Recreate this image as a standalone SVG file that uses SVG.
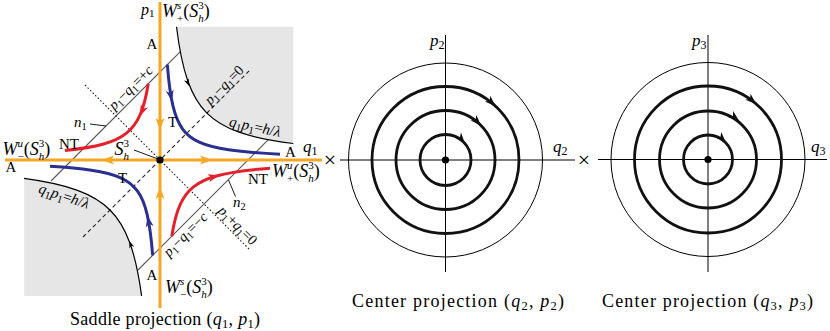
<svg xmlns="http://www.w3.org/2000/svg" xmlns:xlink="http://www.w3.org/1999/xlink" width="830" height="331" viewBox="0 0 830 331">
<defs>
<style>
text { font-family: "Liberation Serif", "Times New Roman", serif; fill: #000; }
.i { font-style: italic; }
.L { font-size: 17px; }
.W { font-size: 18px; }
.M { font-size: 15px; }
.S { font-size: 14.5px; }
.T { font-size: 18px; }
.sc { font-size: 12px; }
.sw { font-size: 11px; }
.st { font-size: 12.5px; }
.ss { font-size: 10.5px; }
.orange { stroke: #f6a623; stroke-width: 3; fill: none; }
.red { stroke: #e5202a; stroke-width: 3; fill: none; }
.blue { stroke: #2b3090; stroke-width: 3; fill: none; }
.hyp { stroke: #000; stroke-width: 1.2; fill: none; }
.gray { fill: #e6e6e6; stroke: none; }
.solid { stroke: #555; stroke-width: 1.1; }
.dash { stroke: #222; stroke-width: 1.1; stroke-dasharray: 4 3; }
.dot { stroke: #222; stroke-width: 1.1; stroke-dasharray: 1.6 2; }
.lead { stroke: #000; stroke-width: 0.9; }
.axis { stroke: #000; stroke-width: 1; }
.thin { stroke: #000; stroke-width: 1; fill: none; }
.thick { stroke: #111; stroke-width: 2.8; fill: none; }
</style>
<path id="ar" d="M0,0 L-11,-4 L-8,0 L-11,4 Z"/>
<path id="ars" d="M0,0 L-7,-2.6 L-5,0 L-7,2.6 Z"/>
<path id="aro" d="M0,0 L-12,-4.5 L-9,0 L-12,4.5 Z"/>
</defs>

<g id="saddle">
  <g id="gray-regions">
    <path class="gray" d="M176.5,26.7 C179.37,49.9 182.98,67.18 187.82,80.94 C192.66,94.7 198.73,104.93 206.9,113.1 C215.07,121.27 225.3,127.34 239.06,132.18 C252.82,137.02 270.1,140.63 293.3,143.5 L293.3,26.7 Z"/>
    <path class="gray" d="M24.1,178.4 C46.74,181.46 63.82,185.27 77.56,190.33 C91.3,195.39 101.67,201.67 110,210 C118.33,218.33 124.61,228.7 129.67,242.44 C134.73,256.18 138.54,273.26 141.6,295.9 L24.1,295.9 Z"/>
  </g>
  <g id="guide-lines">
    <line class="solid" x1="51" y1="181" x2="180.3" y2="51.7"/>
    <line class="solid" x1="138" y1="270" x2="268.3" y2="139.7"/>
    <line class="dash" x1="83" y1="237" x2="250" y2="70"/>
    <line class="dot" x1="85" y1="85" x2="250" y2="250"/>
  </g>
  <g id="energy-curves">
    <path class="hyp" d="M176.5,26.7 C179.37,49.9 182.98,67.18 187.82,80.94 C192.66,94.7 198.73,104.93 206.9,113.1 C215.07,121.27 225.3,127.34 239.06,132.18 C252.82,137.02 270.1,140.63 293.3,143.5"/>
    <path class="hyp" d="M24.1,178.4 C46.74,181.46 63.82,185.27 77.56,190.33 C91.3,195.39 101.67,201.67 110,210 C118.33,218.33 124.61,228.7 129.67,242.44 C134.73,256.18 138.54,273.26 141.6,295.9"/>
    <use xlink:href="#ars" href="#ars" fill="#000" transform="translate(189,86) rotate(68.7)"/>
    <use xlink:href="#ars" href="#ars" fill="#000" transform="translate(129.4,241) rotate(-110.4)"/>
  </g>
  <g id="axes">
    <line class="orange" x1="160" y1="2" x2="160" y2="308"/>
    <line class="orange" x1="5" y1="160" x2="322" y2="160"/>
    <use xlink:href="#aro" href="#aro" fill="#f6a623" transform="translate(160,130) rotate(90)"/>
    <use xlink:href="#aro" href="#aro" fill="#f6a623" transform="translate(160,187) rotate(-90)"/>
    <use xlink:href="#aro" href="#aro" fill="#f6a623" transform="translate(102,160) rotate(180)"/>
    <use xlink:href="#aro" href="#aro" fill="#f6a623" transform="translate(212,160)"/>
    <circle cx="160" cy="160" r="3.6" fill="#000"/>
  </g>
  <g id="orbits">
    <path class="red" d="M148.2,83.73 C146.15,96.99 143.58,106.86 140.12,114.73 C136.66,122.6 132.33,128.46 126.51,133.13 C120.69,137.8 113.39,141.28 103.59,144.05 C93.79,146.82 81.49,148.88 64.97,150.53"/>
    <path class="red" d="M171.8,236.27 C173.85,223.01 176.42,213.14 179.88,205.27 C183.34,197.4 187.67,191.54 193.49,186.87 C199.31,182.2 206.61,178.72 216.41,175.95 C228.96,172.4 245.52,170 270,168.18"/>
    <path class="blue" d="M167.34,64.62 C168.71,82.39 170.45,95.29 172.84,105.45 C175.23,115.61 178.27,123 182.45,128.81 C186.63,134.62 191.94,138.84 199.25,142.16 C206.56,145.48 215.86,147.9 228.65,149.8 C241.44,151.7 257.65,153.08 280,154.17"/>
    <path class="blue" d="M152.66,255.38 C151.29,237.61 149.55,224.71 147.16,214.55 C144.77,204.39 141.73,197 137.55,191.19 C133.37,185.38 128.06,181.16 120.75,177.84 C113.44,174.52 104.14,172.1 91.35,170.2 C80.56,168.6 67.29,167.36 50,166.36"/>
    <use xlink:href="#ar" href="#ar" fill="#e5202a" transform="translate(140,116) rotate(113.7)"/>
    <use xlink:href="#ar" href="#ar" fill="#e5202a" transform="translate(219,175.3) rotate(-15)"/>
    <use xlink:href="#ar" href="#ar" fill="#2b3090" transform="translate(171.8,101) rotate(79)"/>
    <use xlink:href="#ar" href="#ar" fill="#2b3090" transform="translate(147.6,216) rotate(259)"/>
  </g>
  <g id="leaders">
    <line class="lead" x1="90" y1="124" x2="106" y2="126"/>
    <line class="lead" x1="134" y1="150" x2="158" y2="159"/>
    <line class="lead" x1="228.5" y1="180" x2="235.5" y2="196.5"/>
  </g>
  <g id="saddle-labels">
    <text style="font-size:16px" x="141" y="14.5"><tspan class="i">p</tspan><tspan class="sw" dy="2">1</tspan></text>
    <text class="W" x="162" y="17"><tspan class="i">W</tspan><tspan class="sw i" dy="-8">s</tspan><tspan class="sw" dx="-4.3" dy="13">+</tspan><tspan dy="-5">(</tspan><tspan class="i">S</tspan><tspan class="sw" dy="-8">3</tspan><tspan class="sw i" dx="-5.5" dy="13">h</tspan><tspan dy="-5">)</tspan></text>
    <text class="M" x="146.5" y="48.5">A</text>
    <text class="S" text-anchor="middle" transform="translate(134,91) rotate(-45)"><tspan class="i">p</tspan><tspan class="ss" dy="3">1</tspan><tspan dy="-3">−</tspan><tspan class="i">q</tspan><tspan class="ss" dy="3">1</tspan><tspan dy="-3">=+</tspan><tspan class="i">c</tspan></text>
    <text class="M" x="74" y="127"><tspan class="i">n</tspan><tspan class="ss" dy="3">1</tspan></text>
    <text class="M" x="59" y="148.5">NT</text>
    <text class="W" x="2.5" y="155"><tspan class="i">W</tspan><tspan class="sw i" dy="-8">u</tspan><tspan class="sw" dx="-5.5" dy="13">−</tspan><tspan dy="-5">(</tspan><tspan class="i">S</tspan><tspan class="sw" dy="-8">3</tspan><tspan class="sw i" dx="-5.5" dy="13">h</tspan><tspan dy="-5">)</tspan></text>
    <text style="font-size:18px" x="114.5" y="155"><tspan class="i">S</tspan><tspan class="sw" dy="-8.5">3</tspan><tspan class="sw i" dx="-5.5" dy="13.5">h</tspan></text>
    <text class="M" x="5.5" y="172">A</text>
    <text class="M" x="168" y="126.5">T</text>
    <text class="M" x="118" y="183">T</text>
    <text class="S" text-anchor="middle" transform="translate(227.4,88.4) rotate(-45)"><tspan class="i">p</tspan><tspan class="ss" dy="3">1</tspan><tspan dy="-3">−</tspan><tspan class="i">q</tspan><tspan class="ss" dy="3">1</tspan><tspan dy="-3">=0</tspan></text>
    <text class="M" text-anchor="middle" transform="translate(254,131.5) rotate(12)"><tspan class="i">q</tspan><tspan class="ss" dy="3">1</tspan><tspan class="i" dy="-3">p</tspan><tspan class="ss" dy="3">1</tspan><tspan dy="-3">=</tspan><tspan class="i">h</tspan><tspan>/</tspan><tspan class="i">λ</tspan></text>
    <text class="M" x="285" y="156.5">A</text>
    <text class="L" x="303" y="151.5"><tspan class="i">q</tspan><tspan class="sc" dy="3">1</tspan></text>
    <text class="W" x="272" y="177"><tspan class="i">W</tspan><tspan class="sw i" dy="-8">u</tspan><tspan class="sw" dx="-5.5" dy="13">+</tspan><tspan dy="-5">(</tspan><tspan class="i">S</tspan><tspan class="sw" dy="-8">3</tspan><tspan class="sw i" dx="-5.5" dy="13">h</tspan><tspan dy="-5">)</tspan></text>
    <text class="M" x="248" y="184">NT</text>
    <text class="M" x="233" y="207"><tspan class="i">n</tspan><tspan class="ss" dy="3">2</tspan></text>
    <text class="S" text-anchor="middle" transform="translate(234.5,228.8) rotate(45)"><tspan class="i">p</tspan><tspan class="ss" dy="3">1</tspan><tspan dy="-3">+</tspan><tspan class="i">q</tspan><tspan class="ss" dy="3">1</tspan><tspan dy="-3">=0</tspan></text>
    <text class="S" text-anchor="middle" transform="translate(188.7,237.7) rotate(-45)"><tspan class="i">p</tspan><tspan class="ss" dy="3">1</tspan><tspan dy="-3">−</tspan><tspan class="i">q</tspan><tspan class="ss" dy="3">1</tspan><tspan dy="-3">=−</tspan><tspan class="i">c</tspan></text>
    <text class="M" x="146.5" y="279.5">A</text>
    <text class="W" x="165" y="293"><tspan class="i">W</tspan><tspan class="sw i" dy="-8">s</tspan><tspan class="sw" dx="-4.3" dy="13">−</tspan><tspan dy="-5">(</tspan><tspan class="i">S</tspan><tspan class="sw" dy="-8">3</tspan><tspan class="sw i" dx="-5.5" dy="13">h</tspan><tspan dy="-5">)</tspan></text>
    <text class="M" text-anchor="middle" transform="translate(62.6,200.6) rotate(18)"><tspan class="i">q</tspan><tspan class="ss" dy="3">1</tspan><tspan class="i" dy="-3">p</tspan><tspan class="ss" dy="3">1</tspan><tspan dy="-3">=</tspan><tspan class="i">h</tspan><tspan>/</tspan><tspan class="i">λ</tspan></text>
    <text class="T" x="70" y="325" textLength="190" lengthAdjust="spacing">Saddle projection (<tspan class="i">q</tspan><tspan class="st" dy="3">1</tspan><tspan dy="-3">, </tspan><tspan class="i">p</tspan><tspan class="st" dy="3">1</tspan><tspan dy="-3">)</tspan></text>
  </g>
</g>

<text id="times1" x="330" y="166.5" text-anchor="middle" style="font-size:22px">×</text>
<text id="times2" x="584" y="166.5" text-anchor="middle" style="font-size:22px">×</text>

<g id="center2">
  <line class="axis" x1="340" y1="160" x2="575" y2="160"/>
  <line class="axis" x1="445.5" y1="35" x2="445.5" y2="272"/>
  <circle class="thin" cx="445.5" cy="160" r="97"/>
  <circle class="thick" cx="445.5" cy="160" r="73.5"/>
  <circle class="thick" cx="445.5" cy="160" r="49.5"/>
  <circle class="thick" cx="445.5" cy="160" r="25.5"/>
  <use xlink:href="#ar" href="#ar" fill="#111" transform="translate(495.6,106.2) rotate(43)"/>
  <use xlink:href="#ar" href="#ar" fill="#111" transform="translate(481.1,125.6) rotate(46)"/>
  <use xlink:href="#ar" href="#ar" fill="#111" transform="translate(465,143.6) rotate(50)"/>
  <circle cx="445.5" cy="160" r="3.6" fill="#000"/>
  <text class="L" x="430" y="46"><tspan class="i">p</tspan><tspan class="sc" dy="3">2</tspan></text>
  <text class="L" x="553" y="152"><tspan class="i">q</tspan><tspan class="sc" dy="3">2</tspan></text>
  <text class="T" x="352" y="307" textLength="212" lengthAdjust="spacing">Center projection (<tspan class="i">q</tspan><tspan class="st" dy="3">2</tspan><tspan dy="-3">, </tspan><tspan class="i">p</tspan><tspan class="st" dy="3">2</tspan><tspan dy="-3">)</tspan></text>
</g>

<g id="center3">
  <line class="axis" x1="598" y1="159.5" x2="827" y2="159.5"/>
  <line class="axis" x1="708" y1="35" x2="708" y2="272"/>
  <circle class="thin" cx="708" cy="159.5" r="97"/>
  <circle class="thick" cx="708" cy="159.5" r="73.5"/>
  <circle class="thick" cx="708" cy="159.5" r="48.5"/>
  <circle class="thick" cx="708" cy="159.5" r="24.5"/>
  <use xlink:href="#ar" href="#ar" fill="#111" transform="translate(756.2,104) rotate(41)"/>
  <use xlink:href="#ar" href="#ar" fill="#111" transform="translate(739.2,121) rotate(39)"/>
  <use xlink:href="#ar" href="#ar" fill="#111" transform="translate(725.9,142.8) rotate(47)"/>
  <circle cx="708" cy="159.5" r="3.6" fill="#000"/>
  <text class="L" x="692" y="46"><tspan class="i">p</tspan><tspan class="sc" dy="3">3</tspan></text>
  <text class="L" x="811" y="152"><tspan class="i">q</tspan><tspan class="sc" dy="3">3</tspan></text>
  <text class="T" x="602" y="307" textLength="211" lengthAdjust="spacing">Center projection (<tspan class="i">q</tspan><tspan class="st" dy="3">3</tspan><tspan dy="-3">, </tspan><tspan class="i">p</tspan><tspan class="st" dy="3">3</tspan><tspan dy="-3">)</tspan></text>
</g>
</svg>
